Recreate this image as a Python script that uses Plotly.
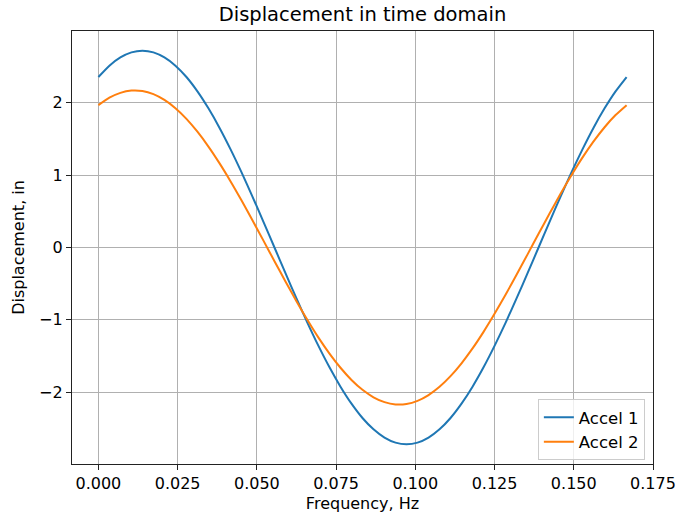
import plotly.graph_objects as go

# Sample positions (Hz) read along the x axis
freq = [0.0, 0.00347, 0.00694, 0.01042, 0.01389, 0.01736, 0.02083, 0.02431,
        0.02778, 0.03125, 0.03472, 0.03819, 0.04167, 0.04514, 0.04861, 0.05208,
        0.05556, 0.05903, 0.0625, 0.06597, 0.06944, 0.07292, 0.07639, 0.07986,
        0.08333, 0.08681, 0.09028, 0.09375, 0.09722, 0.10069, 0.10417, 0.10764,
        0.11111, 0.11458, 0.11806, 0.12153, 0.125, 0.12847, 0.13194, 0.13542,
        0.13889, 0.14236, 0.14583, 0.14931, 0.15278, 0.15625, 0.15972, 0.16319,
        0.16667]

accel1 = [2.356, 2.513, 2.627, 2.697, 2.72, 2.697, 2.627, 2.513,
          2.356, 2.158, 1.923, 1.656, 1.36, 1.041, 0.704, 0.355,
          0.0, -0.355, -0.704, -1.041, -1.36, -1.656, -1.923, -2.158,
          -2.356, -2.513, -2.627, -2.697, -2.72, -2.697, -2.627, -2.513,
          -2.356, -2.158, -1.923, -1.656, -1.36, -1.041, -0.704, -0.355,
          0.0, 0.355, 0.704, 1.041, 1.36, 1.656, 1.923, 2.158,
          2.356]

accel2 = [1.967, 2.070, 2.137, 2.168, 2.162, 2.119, 2.039, 1.925,
          1.778, 1.600, 1.395, 1.166, 0.917, 0.653, 0.377, 0.095,
          -0.189, -0.470, -0.742, -1.002, -1.245, -1.466, -1.662, -1.830,
          -1.967, -2.070, -2.137, -2.168, -2.162, -2.119, -2.039, -1.925,
          -1.778, -1.600, -1.395, -1.166, -0.917, -0.653, -0.377, -0.095,
          0.189, 0.470, 0.742, 1.002, 1.245, 1.466, 1.662, 1.830,
          1.967]

x_ticks = [0.0, 0.025, 0.05, 0.075, 0.1, 0.125, 0.15, 0.175]
x_tick_labels = ["0.000", "0.025", "0.050", "0.075", "0.100", "0.125", "0.150", "0.175"]
y_ticks = [-2, -1, 0, 1, 2]
y_tick_labels = ["\u22122", "\u22121", "0", "1", "2"]

font = "DejaVu Sans"

fig = go.Figure()
fig.add_trace(go.Scatter(x=freq, y=accel1, mode="lines", name="Accel 1",
                         line=dict(color="#1f77b4", width=2, shape="spline", smoothing=0.6)))
fig.add_trace(go.Scatter(x=freq, y=accel2, mode="lines", name="Accel 2",
                         line=dict(color="#ff7f0e", width=2, shape="spline", smoothing=0.6)))

axis_common = dict(
    showline=True, linecolor="#222222", linewidth=1.2, mirror=True,
    ticks="outside", ticklen=5, tickcolor="#222222", tickwidth=1.2,
    showgrid=True, gridcolor="#b0b0b0", gridwidth=1.2,
    zeroline=False, automargin=False,
    tickfont=dict(family=font, size=16, color="black"),
)

fig.update_layout(
    width=676, height=521,
    margin=dict(l=72, r=23, t=31, b=57),
    paper_bgcolor="white", plot_bgcolor="white",
    font=dict(family=font, size=16, color="black"),
    title=dict(text="Displacement in time domain", x=0.5, xref="paper",
               y=0.972, yref="container", yanchor="middle",
               font=dict(family=font, size=19.5, color="black")),
    xaxis=dict(range=[-0.00833, 0.175], tickvals=x_ticks, ticktext=x_tick_labels,
               title=dict(text="Frequency, Hz", font=dict(family=font, size=16), standoff=5),
               **axis_common),
    yaxis=dict(range=[-2.992, 2.992], tickvals=y_ticks, ticktext=y_tick_labels,
               title=dict(text="Displacement, in", font=dict(family=font, size=16), standoff=10),
               **axis_common),
    legend=dict(x=0.986, y=0.009, xanchor="right", yanchor="bottom",
                bgcolor="rgba(255,255,255,0.8)", bordercolor="#cccccc", borderwidth=1,
                font=dict(family=font, size=16.5, color="black"),
                entrywidth=72, entrywidthmode="pixels",
                tracegroupgap=2),
    showlegend=True,
)

fig.write_html("out.html", config={"displayModeBar": False},
               post_script="document.body.style.margin='0';document.body.style.padding='0';")
